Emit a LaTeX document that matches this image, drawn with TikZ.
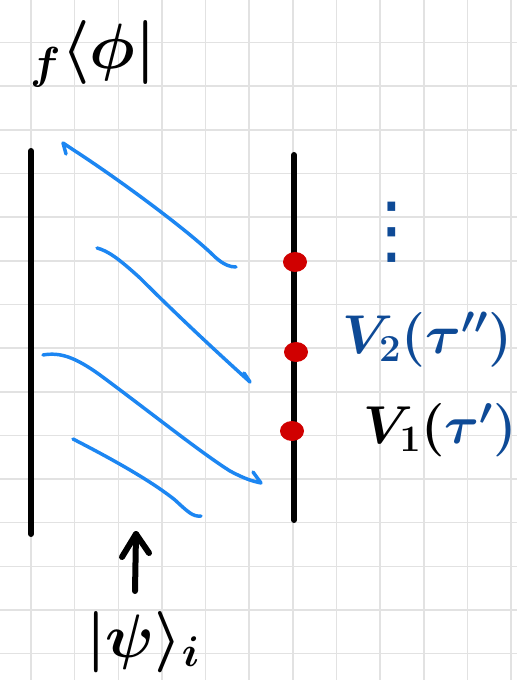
\RequirePackage{fix-cm}
\documentclass[tikz,border=0pt]{standalone}
\usepackage{amsmath}
\usepackage{fontspec}
\newfontfamily\symfont{DejaVu Sans}
\usetikzlibrary{shapes.geometric}
\definecolor{gridgray}{RGB}{226,226,226}
\definecolor{penblue}{RGB}{28,134,242}
\definecolor{inkblue}{RGB}{14,74,150}
\definecolor{dotred}{RGB}{208,0,0}
\begin{document}
\begin{tikzpicture}[x=0.75pt,y=-0.75pt,
  gridline/.style={gridgray,line width=1.2pt},
  blackpen/.style={black,line width=4.5pt,line cap=round,line join=round},
  bluepen/.style={penblue,line width=2.6pt,line cap=round,line join=round},
  reddot/.style={ellipse,fill=dotred,draw=none,inner sep=0pt,minimum width=18pt,minimum height=15pt},
  handtext/.style={inner sep=0pt,font=\fontsize{#1}{#1}\selectfont\boldmath}]
\useasboundingbox (0,0) rectangle (517,680);
\fill[white] (0,0) rectangle (517,680);
% grid
\foreach \k in {0,...,11} \draw[gridline] ({31+43.65*\k},0) -- ({31+43.65*\k},680);
\foreach \k in {0,...,14} \draw[gridline] (0,{42.5+43.65*\k}) -- (517,{42.5+43.65*\k});
% vertical black lines
\draw[blackpen] (31,151) -- (31,534);
\draw[blackpen] (294,155) -- (294,520);
% blue strokes
\draw[bluepen] (66,154) -- (63,143) -- (72,149) .. controls (120,180) and (190,232) .. (215,257) .. controls (224,265) and (230,267) .. (236,267);
\draw[bluepen] (97,248) .. controls (108,251) and (118,258) .. (140,278) .. controls (180,318) and (220,355) .. (250,382) -- (244,373);
\draw[bluepen] (43,355) .. controls (60,352) and (75,357) .. (100,375) .. controls (150,412) and (200,452) .. (230,471) .. controls (245,479) and (252,481) .. (261,483) -- (253,472);
\draw[bluepen] (73,439) .. controls (110,458) and (150,480) .. (175,500) .. controls (188,512) and (193,517) .. (201,516);
% red dots
\node[reddot] (d1) at (295,262) {};
\node[reddot] (d2) at (296,352) {};
\node[reddot] (d3) at (292,431) {};
% texts
\node[handtext=48] (bra) at (93,54) {$ {}_f\langle\phi| $};
\node[inner sep=0pt, text=inkblue, font=\fontsize{56}{56}\selectfont\symfont] (vdots) at (392,232) {⋮};
\node[handtext=41, text=inkblue] (v2) at (427,340) {$V_2(\tau'')$};
\node[handtext=40] (v1) at (440,430) {$V_1($\textcolor{inkblue}{$\tau')$}};
\node[handtext=46] (psi) at (143,642) {$|\psi\rangle_i$};
% arrow from the state upward
\coordinate (atail) at (135,591);
\coordinate (ahead) at (136,534);
\draw[blackpen] (atail) -- (ahead);
\draw[blackpen] (122,557) -- (ahead) -- (149,553);
\end{tikzpicture}
\end{document}
